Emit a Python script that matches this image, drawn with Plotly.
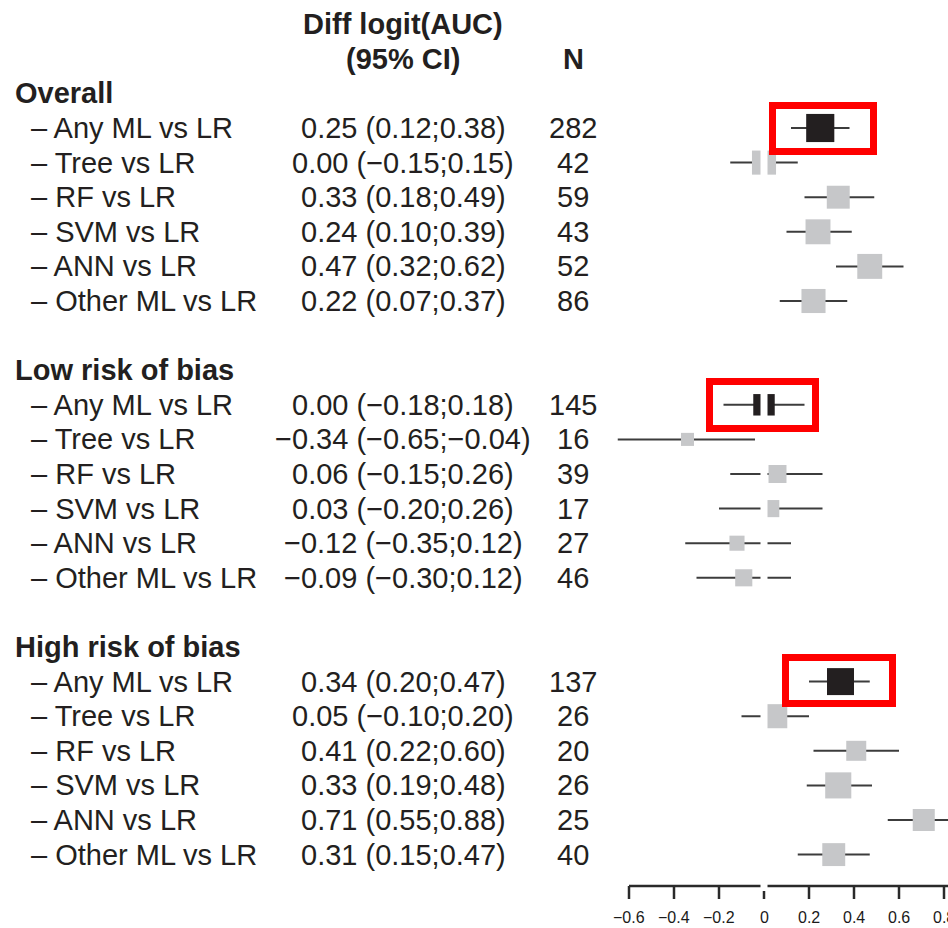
import plotly.graph_objects as go

# ---------------- data ----------------
groups = ["Overall", "Low risk of bias", "High risk of bias"]
comparisons = ["Any ML vs LR", "Tree vs LR", "RF vs LR", "SVM vs LR", "ANN vs LR", "Other ML vs LR"]

est_overall = [0.25, 0.00, 0.33, 0.24, 0.47, 0.22]
lo_overall = [0.12, -0.15, 0.18, 0.10, 0.32, 0.07]
hi_overall = [0.38, 0.15, 0.49, 0.39, 0.62, 0.37]
n_overall = [282, 42, 59, 43, 52, 86]

est_low = [0.00, -0.34, 0.06, 0.03, -0.12, -0.09]
lo_low = [-0.18, -0.65, -0.15, -0.20, -0.35, -0.30]
hi_low = [0.18, -0.04, 0.26, 0.26, 0.12, 0.12]
n_low = [145, 16, 39, 17, 27, 46]

est_high = [0.34, 0.05, 0.41, 0.33, 0.71, 0.31]
lo_high = [0.20, -0.10, 0.22, 0.19, 0.55, 0.15]
hi_high = [0.47, 0.20, 0.60, 0.48, 0.88, 0.47]
n_high = [137, 26, 20, 26, 25, 40]

# relative weight (box width relative to the largest box)
weight_overall = [0.97, 0.83, 0.79, 0.86, 0.86, 0.83]
weight_low = [0.74, 0.45, 0.62, 0.59, 0.52, 0.59]
weight_high = [0.93, 0.83, 0.69, 0.90, 0.76, 0.79]

tick_vals = [-0.6, -0.4, -0.2, 0, 0.2, 0.4, 0.6, 0.8]
tick_text = ["\u22120.6", "\u22120.4", "\u22120.2", "0", "0.2", "0.4", "0.6", "0.8"]

# ---------------- layout helpers ----------------
W, H = 948, 928
PX_PER_UNIT = 225.0
X0_PX = 764.0
ROW_PX = 34.6
ROW0_PX = 93.4
FONT = "Liberation Sans, Arial, Helvetica, sans-serif"
FS = 29
TXT = "#231f20"
BLACK_BOX = "#231f20"
GREY_BOX = "#c6c7c9"
WHISKER = "#3c3c3c"

x_range = [(0 - X0_PX) / PX_PER_UNIT, (W - X0_PX) / PX_PER_UNIT]
y_range = [(H - ROW0_PX) / ROW_PX, (0 - ROW0_PX) / ROW_PX]


def px_y(p):
    return (p - ROW0_PX) / ROW_PX


def px_x(p):
    return (p - X0_PX) / PX_PER_UNIT


def fmt(v):
    s = f"{abs(v):.2f}"
    return ("\u2212" + s) if v < 0 else s


all_groups = [
    (est_overall, lo_overall, hi_overall, n_overall, weight_overall),
    (est_low, lo_low, hi_low, n_low, weight_low),
    (est_high, lo_high, hi_high, n_high, weight_high),
]

fig = go.Figure()
annotations = []
shapes = []


def txt(x_px, y, text, anchor="left"):
    annotations.append(dict(x=x_px / W, xref="paper", y=y, yref="y", text=text,
                            showarrow=False, xanchor=anchor, yanchor="middle",
                            font=dict(family=FONT, size=FS, color=TXT)))


wx, wy = [], []
mx, my, ms, mc = [], [], [], []
for gi, (gname, (est, lo, hi, nn, wt)) in enumerate(zip(groups, all_groups)):
    header_idx = gi * 8
    txt(13, header_idx, "<b>" + gname + "</b>")
    for ri, comp in enumerate(comparisons):
        idx = header_idx + 1 + ri
        txt(29, idx, "\u2013 " + comp)
        txt(403, idx, f"{fmt(est[ri])} ({fmt(lo[ri])};{fmt(hi[ri])})", "center")
        txt(573, idx, str(nn[ri]), "center")
        wx += [lo[ri], hi[ri], None]
        wy += [idx, idx, None]
        mx.append(est[ri])
        my.append(idx)
        ms.append(29 * wt[ri])
        mc.append(BLACK_BOX if ri == 0 else GREY_BOX)

# column headers
txt(403, -2, "<b>Diff logit(AUC)</b>", "center")
txt(403, -1, "<b>(95% CI)</b>", "center")
txt(573, -1, "<b>N</b>", "center")

fig.add_trace(go.Scatter(x=wx, y=wy, mode="lines", line=dict(color=WHISKER, width=2),
                         hoverinfo="skip", showlegend=False))
fig.add_trace(go.Scatter(x=mx, y=my, mode="markers",
                         marker=dict(symbol="square", size=ms, color=mc, opacity=1, line=dict(width=0)),
                         showlegend=False))

# x axis drawn at the bottom
axis_y = px_y(886)
tick_end = px_y(899)
shapes.append(dict(type="line", x0=tick_vals[0], x1=x_range[1] + 0.05, y0=axis_y, y1=axis_y,
                   xref="x", yref="y", line=dict(color="#2a2a2a", width=2.5), layer="above"))
for tv in tick_vals:
    shapes.append(dict(type="line", x0=tv, x1=tv, y0=axis_y, y1=tick_end, xref="x", yref="y",
                       line=dict(color="#2a2a2a", width=2.5), layer="above"))
for tv, tt in zip(tick_vals, tick_text):
    annotations.append(dict(x=tv, xref="x", y=px_y(917), yref="y", text=tt, showarrow=False,
                            xanchor="center", yanchor="middle",
                            font=dict(family=FONT, size=16, color="#1a1a1a")))

# white line of no effect at 0
shapes.append(dict(type="line", x0=0, x1=0, y0=px_y(100), y1=px_y(891), xref="x", yref="y",
                   line=dict(color="white", width=7), layer="above"))

# red highlight rectangles around the "Any ML vs LR" rows
rects = [(772.5, 873.5, 105.5, 151.5), (709.5, 815.5, 381.5, 428.5), (785.5, 892.5, 657.5, 703.5)]
for (a, b, c, d) in rects:
    shapes.append(dict(type="rect", x0=px_x(a), x1=px_x(b), y0=px_y(c), y1=px_y(d), xref="x", yref="y",
                       line=dict(color="#ff0000", width=7), fillcolor="rgba(0,0,0,0)", layer="above"))

fig.update_layout(
    width=W, height=H,
    margin=dict(l=0, r=0, t=0, b=0),
    paper_bgcolor="white", plot_bgcolor="white",
    xaxis=dict(range=x_range, visible=False, fixedrange=True),
    yaxis=dict(range=y_range, visible=False, fixedrange=True),
    annotations=annotations, shapes=shapes,
    showlegend=False,
)

fig.write_html("out.html")
